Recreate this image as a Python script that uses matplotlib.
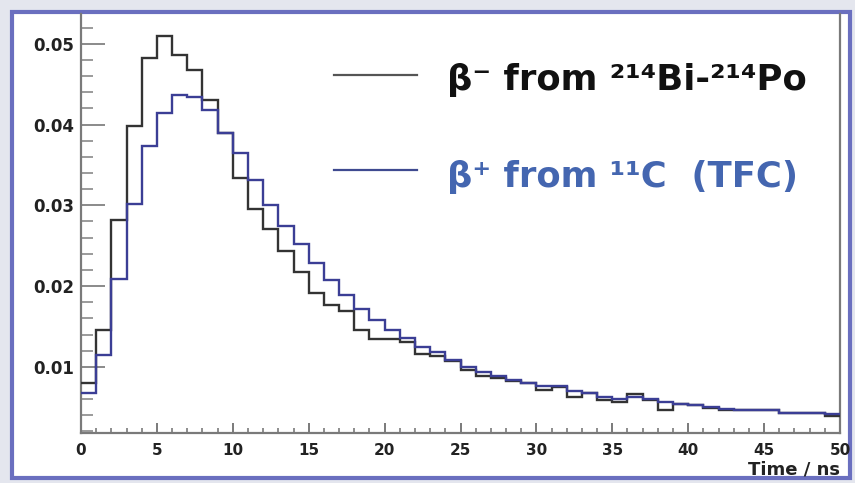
import numpy as np
import matplotlib
matplotlib.use("Agg")
import matplotlib.pyplot as plt
from matplotlib.patches import Rectangle
from matplotlib.lines import Line2D
from matplotlib.ticker import MultipleLocator, FormatStrFormatter

# ---- data (bin contents, 1 ns bins from 0 to 50 ns) ----
bin_edges = list(range(0, 51))
bipo_beta_minus = [0.0080, 0.0146, 0.0282, 0.0398, 0.0483, 0.0510, 0.0486, 0.0468, 0.0430, 0.0390,
                   0.0334, 0.0295, 0.0271, 0.0243, 0.0218, 0.0192, 0.0176, 0.0169, 0.0145, 0.0134,
                   0.0134, 0.0131, 0.0116, 0.0113, 0.0107, 0.0096, 0.0088, 0.0086, 0.0082, 0.0080,
                   0.0071, 0.0075, 0.0062, 0.0067, 0.0059, 0.0057, 0.0066, 0.0059, 0.0047, 0.0054,
                   0.0053, 0.0049, 0.0047, 0.0047, 0.0047, 0.0046, 0.0043, 0.0043, 0.0043, 0.0039]
c11_beta_plus = [0.0067, 0.0115, 0.0209, 0.0302, 0.0373, 0.0414, 0.0437, 0.0434, 0.0418, 0.0390,
                 0.0365, 0.0332, 0.0301, 0.0274, 0.0252, 0.0229, 0.0208, 0.0189, 0.0172, 0.0158,
                 0.0145, 0.0136, 0.0125, 0.0118, 0.0109, 0.0100, 0.0094, 0.0089, 0.0084, 0.0080,
                 0.0076, 0.0076, 0.0070, 0.0068, 0.0063, 0.0060, 0.0062, 0.0060, 0.0057, 0.0054,
                 0.0053, 0.0050, 0.0048, 0.0047, 0.0047, 0.0046, 0.0043, 0.0043, 0.0043, 0.0042]
x_ticks = [0, 5, 10, 15, 20, 25, 30, 35, 40, 45, 50]
y_ticks = [0.01, 0.02, 0.03, 0.04, 0.05]
label_minus = "β⁻ from ²¹⁴Bi-²¹⁴Po"
label_plus = "β⁺ from ¹¹C  (TFC)"
x_label = "Time / ns"

W, H = 855, 483
fig = plt.figure(figsize=(W / 100, H / 100), dpi=100)
fig.patch.set_facecolor("#e4e6ee")

def fx(px):
    return px / W

def fy(py):
    return 1 - py / H

# outer framed panel
fig.patches.append(Rectangle((fx(12), fy(478)), fx(850) - fx(12), fy(12.5) - fy(478),
                             transform=fig.transFigure, facecolor="white",
                             edgecolor="#6a6fbf", lw=3.0, zorder=-5))

ax = fig.add_axes([fx(81), fy(433), fx(840) - fx(81), fy(14) - fy(433)])
ax.set_zorder(2)
ax.patch.set_visible(False)

ax.stairs(bipo_beta_minus, bin_edges, baseline=None, color="#333333", lw=1.7, zorder=3)
ax.stairs(c11_beta_plus, bin_edges, baseline=None, color="#3b3e95", lw=1.7, zorder=4)

ax.set_xlim(0, 50)
ax.set_ylim(0.0018, 0.0537)

ax.set_xticks(x_ticks)
ax.set_xticklabels([str(v) for v in x_ticks])
ax.xaxis.set_minor_locator(MultipleLocator(1))
ax.set_yticks(y_ticks)
ax.yaxis.set_major_formatter(FormatStrFormatter("%.2f"))
ax.yaxis.set_minor_locator(MultipleLocator(0.002))

for s in ("left", "bottom", "right"):
    ax.spines[s].set_color("#7a7a7a")
    ax.spines[s].set_linewidth(1.6)
ax.spines["top"].set_visible(False)

ax.tick_params(axis="x", which="major", direction="in", length=7.5, width=1.4,
               color="#7a7a7a", pad=7, labelsize=11)
ax.tick_params(axis="x", which="minor", direction="in", length=3.8, width=1.2, color="#7a7a7a")
ax.tick_params(axis="y", which="major", direction="in", length=17, width=1.4,
               color="#8a8a8a", pad=5, labelsize=12)
ax.tick_params(axis="y", which="minor", direction="in", length=8.5, width=1.2, color="#8a8a8a")
for lab in ax.get_xticklabels() + ax.get_yticklabels():
    lab.set_fontweight("bold")
    lab.set_color("#222222")

fig.text(fx(840), fy(475), x_label, ha="right", va="baseline", fontsize=13,
         fontweight="bold", color="#222222")

# legend
fig.add_artist(Line2D([fx(334), fx(417)], [fy(75), fy(75)], transform=fig.transFigure,
                      color="#555555", lw=1.6))
fig.add_artist(Line2D([fx(334), fx(417)], [fy(170), fy(170)], transform=fig.transFigure,
                      color="#3f4a90", lw=1.6))
fig.text(fx(447), fy(90), label_minus, ha="left", va="baseline", fontsize=25.5,
         fontweight="bold", color="#111111")
fig.text(fx(447), fy(187), label_plus, ha="left", va="baseline", fontsize=25.5,
         fontweight="bold", color="#4466b0")

fig.savefig("out.png", dpi=100, facecolor=fig.get_facecolor())
